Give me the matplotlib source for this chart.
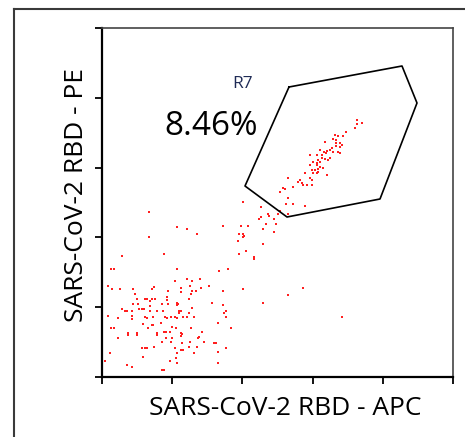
import matplotlib
matplotlib.use("Agg")
import matplotlib.pyplot as plt
from matplotlib.lines import Line2D
import numpy as np

plt.rcParams['font.family'] = ['Open Sans', 'DejaVu Sans']

# events, arbitrary fluorescence units (axis 0..351 x 0..349, 5 decades)
# lower-left cloud (RBD negative)
dn_x = [47, 75, 85, 95, 47, 20, 62, 9, 12, 75, 73, 85, 90, 98, 6, 88, 107,
        10, 18, 31, 50, 52, 66, 79, 79, 90, 94, 99, 33, 65, 65, 89, 35, 43, 45,
        48, 50, 53, 75, 75, 87, 31, 36, 48, 60, 66, 76, 90, 20, 23, 25, 30, 37,
        40, 42, 48, 55, 61, 77, 79, 77, 87, 6, 16, 30, 30, 43, 45, 51, 63, 65,
        69, 73, 75, 81, 85, 92, 41, 50, 51, 59, 70, 9, 12, 46, 74, 89, 26, 26,
        35, 35, 55, 55, 62, 64, 68, 79, 79, 80, 100, 16, 64, 70, 96, 97, 88, 60,
        69, 102, 80, 52, 73, 87, 95, 40, 43, 45, 79, 81, 8, 75, 92, 41, 74, 3,
        68, 25, 30, 75, 60, 62,
        121, 110, 121, 124, 122, 124, 116, 129, 112, 114, 124, 116, 116,
        161, 186, 240,
        121, 139, 146, 137, 141, 142, 141, 136, 144, 137, 152, 152, 126, 117,
        107, 141, 201, 141, 161, 161]
dn_y = [165, 150, 148, 143, 140, 121, 123, 108, 108, 108, 96, 98, 96, 98, 91, 91, 91,
        88, 88, 88, 88, 90, 86, 89, 85, 86, 86, 89, 83, 80, 77, 83, 78, 78, 78,
        76, 78, 78, 74, 72, 78, 73, 73, 71, 73, 73, 73, 69, 68, 66, 66, 66, 68,
        68, 68, 66, 66, 66, 66, 66, 64, 64, 61, 59, 61, 58, 60, 59, 60, 60, 59,
        60, 60, 59, 60, 60, 60, 53, 52, 52, 54, 50, 49, 49, 49, 49, 49, 44, 42,
        44, 42, 44, 42, 45, 45, 45, 44, 41, 43, 45, 39, 39, 39, 39, 40, 35, 35,
        35, 35, 34, 30, 29, 30, 30, 29, 29, 29, 27, 27, 24, 24, 24, 20, 19, 16,
        16, 12, 10, 14, 7, 7,
        86, 74, 72, 66, 64, 60, 54, 49, 34, 34, 29, 25, 14,
        74, 82, 60,
        151, 151, 151, 143, 143, 141, 140, 136, 126, 123, 120, 118, 108, 106,
        91, 88, 89, 175, 148, 133]

# diagonal RBD double positive population (R7)
dp_x = [159, 178, 166, 167, 176, 186, 159, 157, 172, 164, 174, 172, 184, 191, 203,
        255, 255, 260, 253, 244, 233, 236, 241, 231, 234, 234, 234, 238, 240, 238,
        223, 236, 238, 230, 228, 231, 225, 222, 224, 218, 220, 220, 208, 215, 216,
        223, 226, 228, 211, 215, 218, 208, 215, 218, 216, 213, 210, 221, 211, 215,
        216, 225, 203, 208, 210, 198, 196, 200, 201, 205, 210, 191, 186, 181, 178,
        183, 186]
dp_y = [170, 166, 163, 161, 163, 163, 160, 158, 158, 153, 153, 145, 173, 173, 171,
        257, 253, 254, 249, 245, 242, 241, 241, 238, 237, 234, 231, 234, 232, 230,
        235, 225, 224, 229, 227, 225, 226, 225, 224, 227, 222, 219, 222, 222, 217,
        218, 217, 219, 215, 214, 215, 212, 212, 210, 208, 207, 207, 209, 204, 204,
        205, 202, 204, 199, 197, 197, 195, 194, 192, 192, 192, 190, 199, 189, 185,
        188, 179]

# R7 gate polygon
gate_x = [187, 300, 315, 278, 185, 143]
gate_y = [290, 311, 274, 178, 160, 191]
gate_name = 'R7'
gate_pct = '8.46%'

W, H = 465, 437
fig = plt.figure(figsize=(W / 100, H / 100), dpi=100)

# outer panel frame
fig.add_artist(Line2D([14 / W, 14 / W], [0, 1 - 9 / H], color='#3a3a3a', lw=1.5))
fig.add_artist(Line2D([14 / W, 1], [1 - 9 / H, 1 - 9 / H], color='#3a3a3a', lw=1.5))

ax = fig.add_axes([102 / W, 1 - 377 / H, 351 / W, 349 / H])
ax.scatter(dn_x, dn_y, s=3, marker='s', color='#ff1f1f', linewidths=0)
ax.scatter(dp_x, dp_y, s=3, marker='s', color='#ff1f1f', linewidths=0)
ax.plot(gate_x + gate_x[:1], gate_y + gate_y[:1], color='black', lw=1.2)

ax.set_xlim(0, 351)
ax.set_ylim(0, 349)
ax.set_xticks(np.linspace(0, 351, 6))
ax.set_yticks(np.linspace(0, 349, 6))
ax.set_xticklabels([])
ax.set_yticklabels([])
ax.tick_params(direction='out', length=5, width=1.3, color='black')
for s in ['left', 'bottom']:
    ax.spines[s].set_linewidth(1.6)
    ax.spines[s].set_color('black')
for s in ['top', 'right']:
    ax.spines[s].set_linewidth(1.2)
    ax.spines[s].set_color('#444444')

fig.text(285 / W, 1 - 415 / H, 'SARS-CoV-2 RBD - APC', ha='center', va='baseline', fontsize=19)
fig.text(83 / W, 1 - 194.5 / H, 'SARS-CoV-2 RBD - PE', ha='center', va='baseline',
         rotation=90, rotation_mode='anchor', fontsize=19)
fig.text(164 / W, 1 - 135 / H, gate_pct, ha='left', va='baseline', fontsize=24)
fig.text(232 / W, 1 - 88 / H, gate_name, ha='left', va='baseline', fontsize=12.5,
         color='#1e2a55')

fig.savefig('out.png', dpi=100)
